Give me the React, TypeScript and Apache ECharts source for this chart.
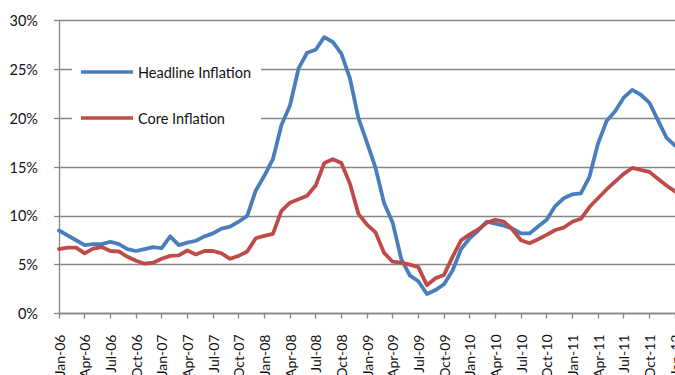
import React, { useEffect, useRef } from "react";
import * as echarts from "echarts";

const months = ["Jan", "Feb", "Mar", "Apr", "May", "Jun", "Jul", "Aug", "Sep", "Oct", "Nov", "Dec"];
const years = ["06", "07", "08", "09", "10", "11"];
const categories: string[] = [
  ...years.flatMap((y) => months.map((m) => `${m}-${y}`)),
  "Jan-12",
];

const headlineInflation = [
  8.5, 8.0, 7.5, 7.0, 7.1, 7.1, 7.35, 7.1, 6.6, 6.4, 6.6, 6.8,
  6.7, 7.9, 7.0, 7.25, 7.45, 7.9, 8.2, 8.7, 8.9, 9.4, 10.0, 12.6,
  14.1, 15.8, 19.3, 21.3, 25.1, 26.7, 27.0, 28.3, 27.8, 26.6, 24.1, 20.0,
  17.5, 14.9, 11.3, 9.3, 5.6, 3.9, 3.3, 2.0, 2.4, 3.0, 4.4, 6.6,
  7.7, 8.5, 9.4, 9.2, 9.0, 8.7, 8.2, 8.2, 8.9, 9.6, 11.0, 11.8,
  12.2, 12.3, 14.0, 17.4, 19.7, 20.7, 22.1, 22.9, 22.4, 21.6, 19.8, 18.0,
  17.2,
];

const coreInflation = [
  6.6, 6.75, 6.75, 6.15, 6.65, 6.8, 6.4, 6.35, 5.8, 5.4, 5.1, 5.2,
  5.6, 5.9, 5.95, 6.45, 6.05, 6.4, 6.4, 6.15, 5.6, 5.9, 6.35, 7.7,
  7.95, 8.15, 10.5, 11.35, 11.7, 12.05, 13.1, 15.4, 15.8, 15.4, 13.3, 10.2,
  9.1, 8.3, 6.2, 5.3, 5.2, 5.0, 4.75, 2.9, 3.6, 3.95, 5.8, 7.5,
  8.1, 8.6, 9.3, 9.6, 9.4, 8.6, 7.5, 7.2, 7.6, 8.05, 8.55, 8.8,
  9.4, 9.7, 10.9, 11.8, 12.7, 13.5, 14.3, 14.9, 14.7, 14.5, 13.8, 13.1,
  12.5,
];

const FONT = "Lato, 'Noto Sans', sans-serif";
const GRID_COLOR = "#878787";
const TEXT_COLOR = "#111111";

export default function App() {
  const ref = useRef<HTMLDivElement>(null);

  useEffect(() => {
    if (!ref.current) return;
    const chart = echarts.init(ref.current, undefined, { renderer: "svg" });
    chart.setOption({
      animation: false,
      backgroundColor: "#ffffff",
      textStyle: { fontFamily: FONT },
      grid: {
        left: 59,
        right: 0,
        top: 20.5,
        bottom: 61.5,
        containLabel: false,
        outerBoundsMode: "none",
      },
      legend: {
        orient: "vertical",
        left: 72,
        top: 48,
        padding: [15, 10, 15, 9],
        backgroundColor: "#ffffff",
        icon: "rect",
        itemWidth: 52,
        itemHeight: 3.5,
        itemGap: 28,
        textStyle: { fontFamily: FONT, fontSize: 14.5, color: TEXT_COLOR, lineHeight: 18 },
        data: ["Headline Inflation", "Core Inflation"],
      },
      xAxis: {
        type: "category",
        data: categories,
        boundaryGap: false,
        axisLine: { show: true, lineStyle: { color: GRID_COLOR, width: 1.3 } },
        axisTick: { show: true, interval: 2, length: 5, lineStyle: { color: GRID_COLOR, width: 1.3 } },
        axisLabel: {
          interval: 2,
          rotate: 90,
          margin: 21,
          fontFamily: FONT,
          fontSize: 14,
          color: TEXT_COLOR,
        },
        splitLine: { show: false },
      },
      yAxis: {
        type: "value",
        min: 0,
        max: 30,
        interval: 5,
        axisLine: { show: true, lineStyle: { color: GRID_COLOR, width: 1.3 } },
        axisTick: { show: true, length: 5, lineStyle: { color: GRID_COLOR, width: 1.3 } },
        axisLabel: {
          formatter: "{value}%",
          margin: 21,
          fontFamily: FONT,
          fontSize: 14.5,
          color: TEXT_COLOR,
        },
        splitLine: { show: true, lineStyle: { color: GRID_COLOR, width: 1.3 } },
      },
      series: [
        {
          name: "Headline Inflation",
          type: "line",
          data: headlineInflation,
          symbol: "none",
          color: "#4A7EBB",
          lineStyle: { color: "#4A7EBB", width: 3.8, join: "round", cap: "round" },
        },
        {
          name: "Core Inflation",
          type: "line",
          data: coreInflation,
          symbol: "none",
          color: "#BE4B48",
          lineStyle: { color: "#BE4B48", width: 3.8, join: "round", cap: "round" },
        },
      ],
    });
    return () => chart.dispose();
  }, []);

  return (
    <div
      ref={ref}
      style={{ position: "fixed", left: 0, top: 0, width: 675, height: 375, background: "#fff" }}
    />
  );
}
